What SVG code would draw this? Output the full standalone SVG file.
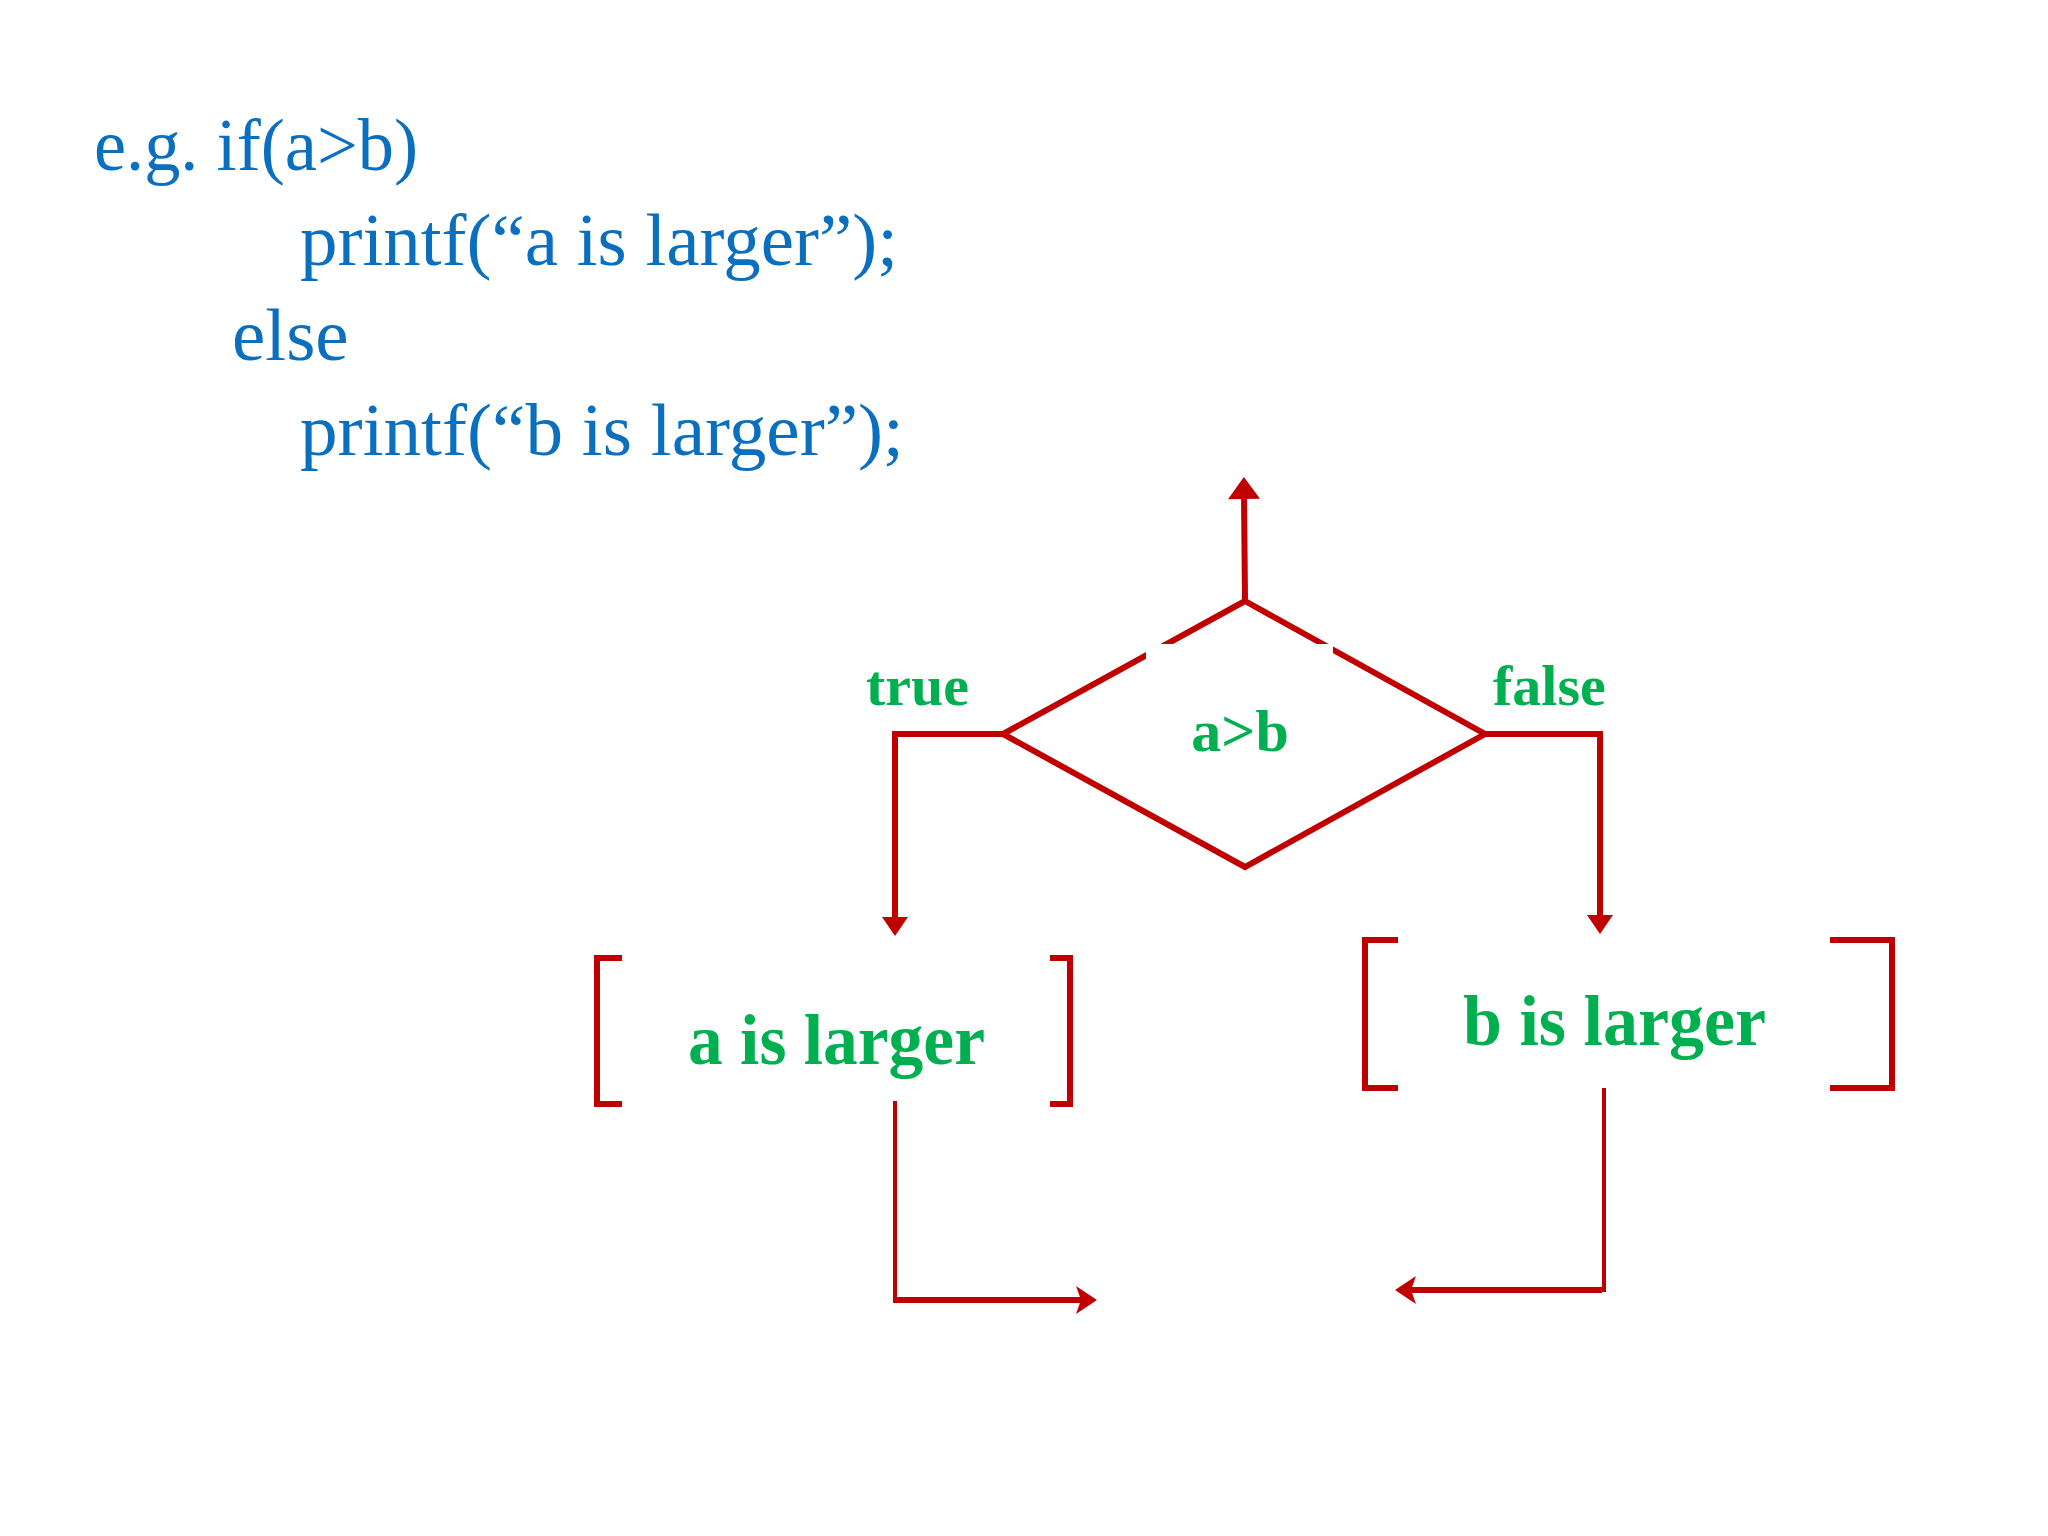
<svg xmlns="http://www.w3.org/2000/svg" width="2048" height="1536" viewBox="0 0 2048 1536">
<style>
.code{font-family:"Liberation Serif","DejaVu Serif",serif;font-size:75px;fill:#0B6FBF}
.lbl{font-family:"Liberation Serif","DejaVu Serif",serif;font-weight:bold;fill:#00B050}
.ln{fill:none;stroke:#C00000;stroke-linecap:butt;stroke-linejoin:miter}
</style>
<defs>
<marker id="tri" markerUnits="userSpaceOnUse" orient="auto" refX="0" refY="0" markerWidth="60" markerHeight="60" overflow="visible"><path d="M-4,-16 L18,0 L-4,16 Z" fill="#C00000"/></marker>
<marker id="triS" markerUnits="userSpaceOnUse" orient="auto" refX="0" refY="0" markerWidth="60" markerHeight="60" overflow="visible"><path d="M-3,-13 L16,0 L-3,13 Z" fill="#C00000"/></marker>
<marker id="stealth" markerUnits="userSpaceOnUse" orient="auto" refX="0" refY="0" markerWidth="60" markerHeight="60" overflow="visible"><path d="M-9,-14 L12,0 L-9,14 L-4,0 Z" fill="#C00000"/></marker>
<clipPath id="gap"><path clip-rule="evenodd" d="M0,0 H2048 V1536 H0 Z M1146,644 H1333 V720 H1146 Z"/></clipPath>
</defs>
<rect width="2048" height="1536" fill="#FFFFFF"/>
<g id="code">
<text class="code" x="94" y="170" textLength="324" lengthAdjust="spacingAndGlyphs">e.g. if(a&gt;b)</text>
<text class="code" x="300" y="265" textLength="598" lengthAdjust="spacingAndGlyphs">printf(“a is larger”);</text>
<text class="code" x="232" y="360">else</text>
<text class="code" x="300" y="455" textLength="604" lengthAdjust="spacingAndGlyphs">printf(“b is larger”);</text>
</g>
<g id="decision">
<path class="ln" stroke-width="6" clip-path="url(#gap)" d="M1245,601 L1485,734 L1245,867 L1003,734 Z"/>
<text class="lbl" x="1240" y="751" font-size="60" text-anchor="middle">a&gt;b</text>
</g>
<g id="nodeA">
<path class="ln" stroke-width="6" d="M622,958 L597,958 L597,1104 L622,1104 M1050,958 L1070,958 L1070,1104 L1050,1104"/>
<text class="lbl" x="688" y="1064" font-size="72" textLength="297" lengthAdjust="spacingAndGlyphs">a is larger</text>
</g>
<g id="nodeB">
<path class="ln" stroke-width="6" d="M1398,940 L1365,940 L1365,1088 L1398,1088 M1830,940 L1892,940 L1892,1088 L1830,1088"/>
<text class="lbl" x="1463" y="1045" font-size="72" textLength="303" lengthAdjust="spacingAndGlyphs">b is larger</text>
</g>
<g id="labels">
<text class="lbl" x="866" y="705" font-size="58">true</text>
<text class="lbl" x="1493" y="705" font-size="58">false</text>
</g>
<g id="connectors">
<path class="ln" stroke-width="6" d="M1245,601 L1244,495" marker-end="url(#tri)"/>
<path class="ln" stroke-width="6" d="M1003,734 L895,734 L895,920" marker-end="url(#triS)"/>
<path class="ln" stroke-width="6" d="M1485,734 L1600,734 L1600,918" marker-end="url(#triS)"/>
<path class="ln" stroke-width="4" d="M895,1101 L895,1300"/>
<path class="ln" stroke-width="6" d="M893,1300 L1085,1300" marker-end="url(#stealth)"/>
<path class="ln" stroke-width="4" d="M1604,1088 L1604,1292"/>
<path class="ln" stroke-width="6" d="M1602,1290 L1407,1290" marker-end="url(#stealth)"/>
</g>
</svg>
